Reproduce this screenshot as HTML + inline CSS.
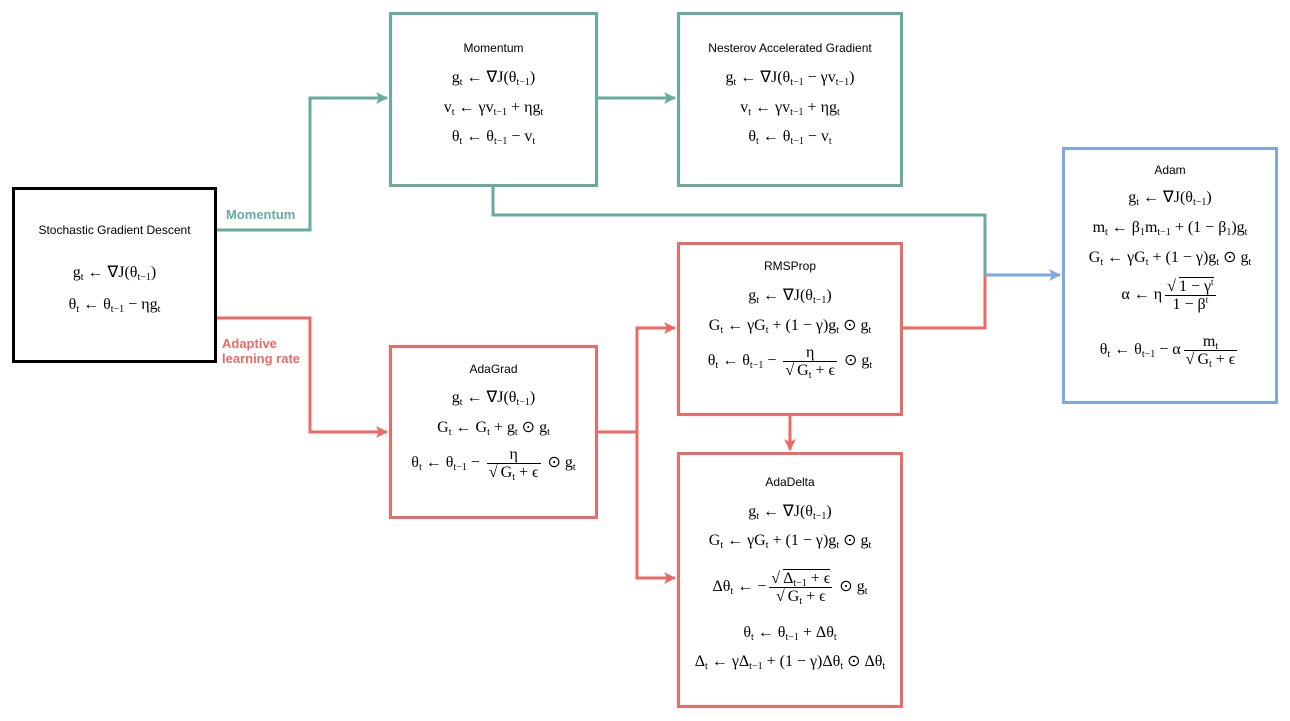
<!DOCTYPE html>
<html><head><meta charset="utf-8"><style>
body{margin:0;width:1290px;height:721px;background:#fff;position:relative;overflow:hidden;font-family:"Liberation Serif",serif;}
.b{position:absolute;box-sizing:border-box;background:#fff;}
.t{position:absolute;text-align:center;font-family:"Liberation Sans",sans-serif;font-size:12px;color:#000;line-height:16px;}
.f{position:absolute;text-align:center;font-size:16px;color:#000;line-height:18px;white-space:nowrap;}
sub{font-size:10px;vertical-align:-3px;line-height:0;}
sup{font-size:9px;vertical-align:6px;line-height:0;}
.fr{display:inline-block;vertical-align:middle;text-align:center;line-height:17px;margin:0 3px;}
.fr>span{display:block;padding:0 2px;}
.fr>span:first-child{border-bottom:1px solid #000;}
.ov{border-top:1px solid #000;margin-left:3px;}
.lab{position:absolute;font-family:"Liberation Sans",sans-serif;font-weight:bold;font-size:13px;line-height:15px;}
</style></head><body>
<svg width="1290" height="721" style="position:absolute;left:0;top:0">
<defs>
<marker id="ag" markerWidth="12" markerHeight="12" refX="11" refY="6" orient="auto" markerUnits="userSpaceOnUse"><path d="M0,0 L12,6 L0,12 L3,6z" fill="#67ab9f"/></marker>
<marker id="ar" markerWidth="12" markerHeight="12" refX="11" refY="6" orient="auto" markerUnits="userSpaceOnUse"><path d="M0,0 L12,6 L0,12 L3,6z" fill="#ea6b66"/></marker>
<marker id="ab" markerWidth="12" markerHeight="12" refX="11" refY="6" orient="auto" markerUnits="userSpaceOnUse"><path d="M0,0 L12,6 L0,12 L3,6z" fill="#7ea6e0"/></marker>
</defs>
<g fill="none" stroke-width="3">
<path d="M216,230 H310 V98 H387" stroke="#67ab9f" marker-end="url(#ag)"/>
<path d="M597,98 H675" stroke="#67ab9f" marker-end="url(#ag)"/>
<path d="M493,186 V215 H985 V275" stroke="#67ab9f"/>
<path d="M902,328 H985 V275" stroke="#ea6b66"/>
<path d="M985,275 H1060" stroke="#7ea6e0" marker-end="url(#ab)"/>
<path d="M216,318 H310 V432 H387" stroke="#ea6b66" marker-end="url(#ar)"/>
<path d="M597,432 H637 V328 H675" stroke="#ea6b66" marker-end="url(#ar)"/>
<path d="M637,432 V578 H675" stroke="#ea6b66" marker-end="url(#ar)"/>
<path d="M790,415 V450" stroke="#ea6b66" marker-end="url(#ar)"/>
</g>
</svg>

<div class="b" style="left:12px;top:187px;width:205px;height:176px;border:3px solid #000"></div>
<div class="b" style="left:389px;top:12px;width:209px;height:175px;border:3px solid #67ab9f"></div>
<div class="b" style="left:677px;top:12px;width:226px;height:175px;border:3px solid #67ab9f"></div>
<div class="b" style="left:1062px;top:147px;width:216px;height:257px;border:3px solid #7ea6e0"></div>
<div class="b" style="left:677px;top:242px;width:226px;height:174px;border:3px solid #ea6b66"></div>
<div class="b" style="left:389px;top:345px;width:209px;height:174px;border:3px solid #ea6b66"></div>
<div class="b" style="left:677px;top:452px;width:226px;height:256px;border:3px solid #ea6b66"></div>

<div class="lab" style="left:226px;top:207px;color:#67ab9f">Momentum</div>
<div class="lab" style="left:222px;top:336px;color:#ea6b66">Adaptive<br>learning rate</div>

<!-- SGD -->
<div class="t" style="left:12px;width:205px;top:222px">Stochastic Gradient Descent</div>
<div class="f" style="left:12px;width:205px;top:264px">g<sub>t</sub> ← ∇J(θ<sub>t−1</sub>)</div>
<div class="f" style="left:12px;width:205px;top:296px">θ<sub>t</sub> ← θ<sub>t−1</sub> − ηg<sub>t</sub></div>

<!-- Momentum -->
<div class="t" style="left:389px;width:209px;top:40px">Momentum</div>
<div class="f" style="left:389px;width:209px;top:69px">g<sub>t</sub> ← ∇J(θ<sub>t−1</sub>)</div>
<div class="f" style="left:389px;width:209px;top:99px">v<sub>t</sub> ← γv<sub>t−1</sub> + ηg<sub>t</sub></div>
<div class="f" style="left:389px;width:209px;top:128px">θ<sub>t</sub> ← θ<sub>t−1</sub> − v<sub>t</sub></div>

<!-- Nesterov -->
<div class="t" style="left:677px;width:226px;top:40px">Nesterov Accelerated Gradient</div>
<div class="f" style="left:677px;width:226px;top:69px">g<sub>t</sub> ← ∇J(θ<sub>t−1</sub> − γv<sub>t−1</sub>)</div>
<div class="f" style="left:677px;width:226px;top:99px">v<sub>t</sub> ← γv<sub>t−1</sub> + ηg<sub>t</sub></div>
<div class="f" style="left:677px;width:226px;top:128px">θ<sub>t</sub> ← θ<sub>t−1</sub> − v<sub>t</sub></div>

<!-- Adam -->
<div class="t" style="left:1062px;width:216px;top:162px">Adam</div>
<div class="f" style="left:1062px;width:216px;top:189px">g<sub>t</sub> ← ∇J(θ<sub>t−1</sub>)</div>
<div class="f" style="left:1062px;width:216px;top:219px">m<sub>t</sub> ← β<sub>1</sub>m<sub>t−1</sub> + (1 − β<sub>1</sub>)g<sub>t</sub></div>
<div class="f" style="left:1062px;width:216px;top:249px">G<sub>t</sub> ← γG<sub>t</sub> + (1 − γ)g<sub>t</sub> ⊙ g<sub>t</sub></div>
<div class="f" style="left:1062px;width:216px;top:278px">α ← η<span class="fr"><span>√<span class="ov">1 − γ<sup>t</sup></span></span><span>1 − β<sup>t</sup></span></span></div>
<div class="f" style="left:1062px;width:216px;top:333px">θ<sub>t</sub> ← θ<sub>t−1</sub> − α<span class="fr"><span>m<sub>t</sub></span><span>√<span class="ov">G<sub>t</sub> + ϵ</span></span></span></div>

<!-- RMSProp -->
<div class="t" style="left:677px;width:226px;top:258px">RMSProp</div>
<div class="f" style="left:677px;width:226px;top:287px">g<sub>t</sub> ← ∇J(θ<sub>t−1</sub>)</div>
<div class="f" style="left:677px;width:226px;top:317px">G<sub>t</sub> ← γG<sub>t</sub> + (1 − γ)g<sub>t</sub> ⊙ g<sub>t</sub></div>
<div class="f" style="left:677px;width:226px;top:344px">θ<sub>t</sub> ← θ<sub>t−1</sub> − <span class="fr"><span>η</span><span>√<span class="ov">G<sub>t</sub> + ϵ</span></span></span> ⊙ g<sub>t</sub></div>

<!-- AdaGrad -->
<div class="t" style="left:389px;width:209px;top:361px">AdaGrad</div>
<div class="f" style="left:389px;width:209px;top:389px">g<sub>t</sub> ← ∇J(θ<sub>t−1</sub>)</div>
<div class="f" style="left:389px;width:209px;top:419px">G<sub>t</sub> ← G<sub>t</sub> + g<sub>t</sub> ⊙ g<sub>t</sub></div>
<div class="f" style="left:389px;width:209px;top:446px">θ<sub>t</sub> ← θ<sub>t−1</sub> − <span class="fr"><span>η</span><span>√<span class="ov">G<sub>t</sub> + ϵ</span></span></span> ⊙ g<sub>t</sub></div>

<!-- AdaDelta -->
<div class="t" style="left:677px;width:226px;top:474px">AdaDelta</div>
<div class="f" style="left:677px;width:226px;top:503px">g<sub>t</sub> ← ∇J(θ<sub>t−1</sub>)</div>
<div class="f" style="left:677px;width:226px;top:532px">G<sub>t</sub> ← γG<sub>t</sub> + (1 − γ)g<sub>t</sub> ⊙ g<sub>t</sub></div>
<div class="f" style="left:677px;width:226px;top:570px">Δθ<sub>t</sub> ← −<span class="fr"><span>√<span class="ov">Δ<sub>t−1</sub> + ϵ</span></span><span>√<span class="ov">G<sub>t</sub> + ϵ</span></span></span> ⊙ g<sub>t</sub></div>
<div class="f" style="left:677px;width:226px;top:624px">θ<sub>t</sub> ← θ<sub>t−1</sub> + Δθ<sub>t</sub></div>
<div class="f" style="left:677px;width:226px;top:653px">Δ<sub>t</sub> ← γΔ<sub>t−1</sub> + (1 − γ)Δθ<sub>t</sub> ⊙ Δθ<sub>t</sub></div>
</body></html>
